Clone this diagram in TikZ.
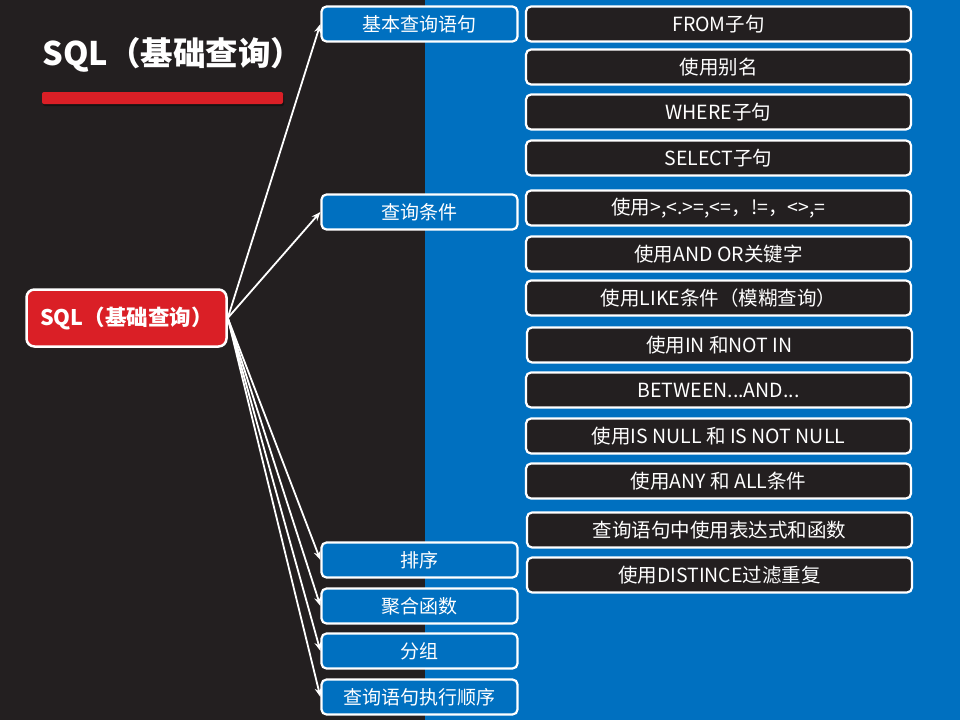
\documentclass[tikz,border=0pt]{standalone}
\usepackage{fontspec}
\setmainfont{Noto Sans CJK SC}
\usetikzlibrary{arrows.meta,positioning}
\definecolor{sqldark}{RGB}{35,31,32}
\definecolor{sqlblue}{RGB}{0,112,192}
\definecolor{sqlred}{RGB}{218,31,38}
\tikzset{
  rootbox/.style={draw=white, line width=2.5pt, rounded corners=8pt, fill=sqlred,
                  font=\fontsize{21.5}{26}\selectfont\bfseries, text=white,
                  minimum width=200pt, minimum height=57pt},
  branchbox/.style={draw=white, line width=2.2pt, rounded corners=5pt, fill=sqlblue,
                    font=\fontsize{19}{23}\selectfont, text=white,
                    minimum width=196pt, minimum height=35pt},
  leafbox/.style={draw=white, line width=2.2pt, rounded corners=5pt, fill=sqldark,
                  font=\fontsize{19.5}{23}\selectfont, text=white,
                  minimum width=385pt, minimum height=35pt},
  link/.style={-{Stealth[length=9pt,width=7pt]}, white, line width=1.8pt},
}
\begin{document}
\begin{tikzpicture}[x=1pt, y=-1pt]
\useasboundingbox (0,0) rectangle (960,720);

% Background halves
\fill[sqldark] (0,0) rectangle (425,720);
\fill[sqlblue] (425,0) rectangle (960,720);

% Title and red bar
\node[text=white, font=\fontsize{32.5}{38}\selectfont\bfseries] (title) at (173,55) {SQL（基础查询）};
\fill[black!40!sqldark, rounded corners=2pt] (43,94) rectangle (284,106);
\fill[sqlred, rounded corners=2pt] (42,92) rectangle (283,104);

% Root
\node[rootbox] (root) at (126.5,318) {SQL（基础查询）};

% Branches
\node[branchbox] (basic) at (419.5,24) {基本查询语句};
\node[branchbox] (cond) at (419.5,212) {查询条件};
\node[branchbox] (sort) at (419.5,560) {排序};
\node[branchbox] (agg) at (419.5,606) {聚合函数};
\node[branchbox] (group) at (419.5,651) {分组};
\node[branchbox] (order) at (419.5,697) {查询语句执行顺序};

\draw[link] (root.east) -- (basic.west);
\draw[link] (root.east) -- (cond.west);
\draw[link] (root.east) -- (sort.west);
\draw[link] (root.east) -- (agg.west);
\draw[link] (root.east) -- (group.west);
\draw[link] (root.east) -- (order.west);

% Leaves
\node[leafbox] (from) at (718.5,24) {FROM子句};
\node[leafbox] (alias) at (718.5,67) {使用别名};
\node[leafbox] (where) at (718.5,112) {WHERE子句};
\node[leafbox] (select) at (718.5,158) {SELECT子句};
\node[leafbox] (cmp) at (718.5,208) {使用>,<.>=,<=，!=，<>,=};
\node[leafbox] (andor) at (718.5,254) {使用AND OR关键字};
\node[leafbox] (like) at (718.5,298) {使用LIKE条件（模糊查询）};
\node[leafbox] (in) at (719.5,345) {使用IN 和NOT IN};
\node[leafbox] (between) at (718.5,390) {BETWEEN...AND...};
\node[leafbox] (null) at (718.5,436) {使用IS NULL 和 IS NOT NULL};
\node[leafbox] (anyall) at (718.5,481) {使用ANY 和 ALL条件};
\node[leafbox] (expr) at (719.5,530) {查询语句中使用表达式和函数};
\node[leafbox] (distinct) at (719.5,575) {使用DISTINCE过滤重复};

\end{tikzpicture}
\end{document}
